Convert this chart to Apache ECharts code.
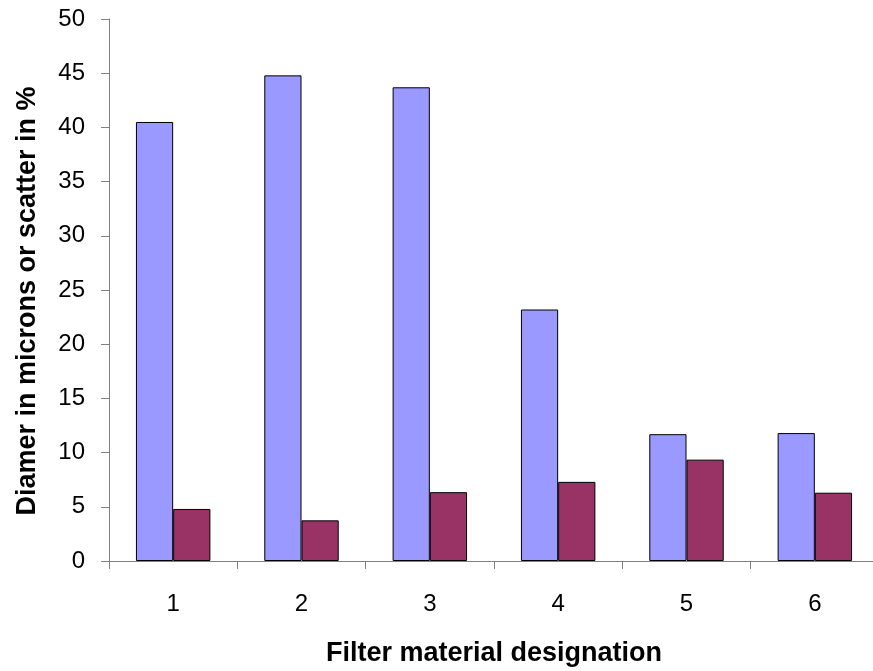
<!DOCTYPE html>
<html>
<head>
<meta charset="utf-8">
<script src="https://cdn.jsdelivr.net/npm/echarts@6/dist/echarts.min.js"></script>
<style>html,body{margin:0;padding:0;background:#fff;}#c{width:873px;height:671px;}</style>
</head>
<body>
<div id="c"></div>
<script>
const categories = ['1', '2', '3', '4', '5', '6'];
const diameter = [40.5, 44.8, 43.7, 23.2, 11.7, 11.8];
const scatter = [4.8, 3.75, 6.35, 7.3, 9.35, 6.3];
const yTicks = { min: 0, max: 50, interval: 5 };

const chart = echarts.init(document.getElementById('c'), null, { renderer: 'canvas' });
const font = 'Arial, "Liberation Sans", sans-serif';
chart.setOption({
  animation: false,
  backgroundColor: '#ffffff',
  grid: { left: 109, top: 19, right: -6, bottom: 110, containLabel: false, outerBoundsMode: 'none' },
  xAxis: {
    type: 'category',
    data: categories,
    name: 'Filter material designation',
    nameLocation: 'middle',
    nameGap: 79,
    nameTextStyle: { fontFamily: font, fontSize: 27, fontWeight: 'bold', color: '#000' },
    axisLine: { lineStyle: { color: '#808080', width: 1 } },
    axisTick: { show: true, length: 8, inside: false, lineStyle: { color: '#808080' } },
    axisLabel: { fontFamily: font, fontSize: 24, color: '#000', margin: 31 },
    splitLine: { show: false }
  },
  yAxis: {
    type: 'value',
    min: yTicks.min, max: yTicks.max, interval: yTicks.interval,
    name: 'Diamer in microns or scatter in %',
    nameLocation: 'middle',
    nameGap: 68,
    nameTextStyle: { fontFamily: font, fontSize: 27, fontWeight: 'bold', color: '#000', padding: [0, 22, 0, 0] },
    axisLine: { show: true, lineStyle: { color: '#808080', width: 1 } },
    axisTick: { show: true, length: 8, lineStyle: { color: '#808080' } },
    axisLabel: { fontFamily: font, fontSize: 24, color: '#000', margin: 24 },
    splitLine: { show: false }
  },
  series: [
    {
      type: 'bar', data: diameter, barGap: '0%', barCategoryGap: '42%',
      itemStyle: { color: '#9999FF', borderColor: '#000', borderWidth: 1 }
    },
    {
      type: 'bar', data: scatter,
      itemStyle: { color: '#993366', borderColor: '#000', borderWidth: 1 }
    }
  ]
});
</script>
</body>
</html>
